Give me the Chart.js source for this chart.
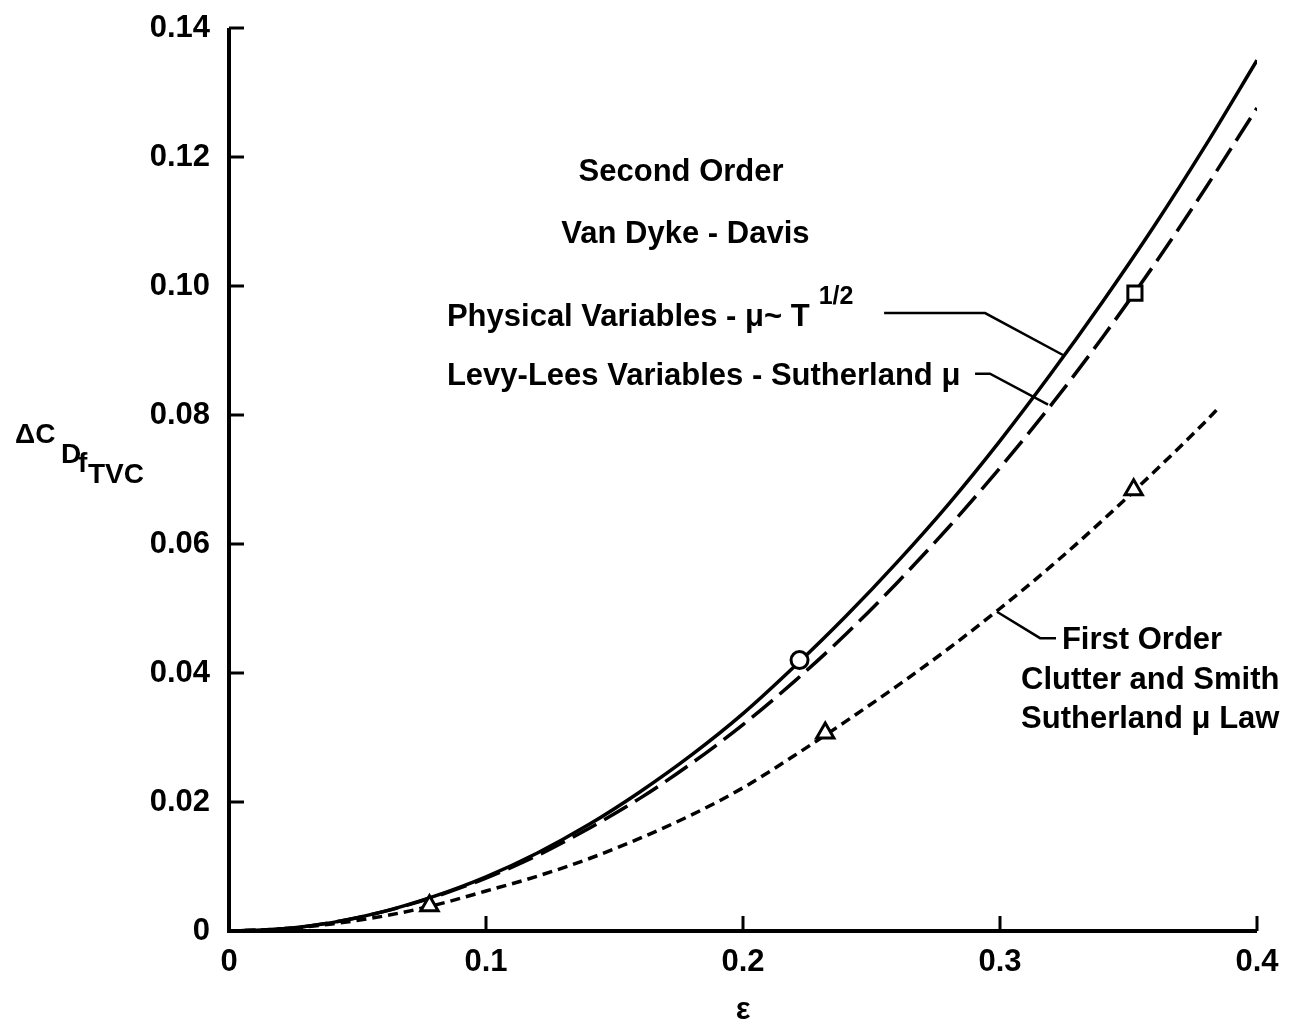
<!DOCTYPE html>
<html>
<head>
<meta charset="utf-8">
<script src="https://cdn.jsdelivr.net/npm/chart.js@4.4.0/dist/chart.umd.min.js"></script>
<style>
  html, body { margin: 0; padding: 0; background: #fff; }
  #wrap { width: 1291px; height: 1026px; }
</style>
</head>
<body>
<div id="wrap"><canvas id="chart"></canvas></div>
<script>
// epsilon values the second order curves are read at
const epsValues = [0, 0.02, 0.04, 0.06, 0.08, 0.1, 0.12, 0.14, 0.16, 0.18, 0.2,
  0.22, 0.24, 0.26, 0.28, 0.3, 0.32, 0.34, 0.36, 0.38, 0.4];
// Physical Variables - mu ~ T^1/2 (solid)
const physicalValues = [0, 0.0003, 0.0013, 0.003, 0.0054, 0.0084, 0.0121, 0.0165, 0.0216, 0.0273, 0.0337,
  0.041, 0.0488, 0.0572, 0.0662, 0.076, 0.0865, 0.0976, 0.1093, 0.1218, 0.135];
// Levy-Lees Variables - Sutherland mu (long dashes)
const levyLeesValues = [0, 0.0003, 0.0013, 0.003, 0.0053, 0.0082, 0.0117, 0.0159, 0.0206, 0.026, 0.032,
  0.0387, 0.046, 0.054, 0.0626, 0.0718, 0.0816, 0.0921, 0.1033, 0.1152, 0.1276];
// First Order, Clutter and Smith (short dashes)
const firstOrderEps = [0, 0.02, 0.04, 0.06, 0.08, 0.1, 0.12, 0.14, 0.16, 0.18, 0.2,
  0.22, 0.24, 0.26, 0.28, 0.3, 0.32, 0.34, 0.36, 0.38, 0.385];
const firstOrderValues = [0, 0.0003, 0.0011, 0.0023, 0.004, 0.0062, 0.0085, 0.0112, 0.0144, 0.018, 0.0222,
  0.0272, 0.0325, 0.038, 0.0438, 0.05, 0.0566, 0.0637, 0.0712, 0.079, 0.0811];

// symbols on the curves
const circleEps = [0.222];
const circleValues = [0.042];
const squareEps = [0.3525];
const squareValues = [0.0989];
const triangleEps = [0.078, 0.232, 0.352];
const triangleValues = [0.0039, 0.0307, 0.0684];

// axes
const xTicks = [0, 0.1, 0.2, 0.3, 0.4];
const xTickLabels = ["0", "0.1", "0.2", "0.3", "0.4"];
const yTicks = [0, 0.02, 0.04, 0.06, 0.08, 0.1, 0.12, 0.14];
const yTickLabels = ["0", "0.02", "0.04", "0.06", "0.08", "0.10", "0.12", "0.14"];

const FAMILY = "'Liberation Sans', Arial, sans-serif";
const toPoints = (xs, ys) => xs.map((x, i) => ({ x: x, y: ys[i] }));

// axes, inward ticks, leader lines and the notes on the plot
const overlay = {
  id: "overlay",
  afterDatasetsDraw(chart) {
    const { ctx, chartArea: a, scales } = chart;
    const px = (v) => scales.x.getPixelForValue(v);
    const py = (v) => scales.y.getPixelForValue(v);
    ctx.save();
    ctx.strokeStyle = "#000";
    ctx.fillStyle = "#000";

    // axis lines
    ctx.lineWidth = 4;
    ctx.beginPath();
    ctx.moveTo(a.left, a.top);
    ctx.lineTo(a.left, a.bottom);
    ctx.lineTo(a.right, a.bottom);
    ctx.stroke();

    // ticks point into the plot
    ctx.lineWidth = 3;
    yTicks.forEach((v) => {
      if (v === 0) return;
      ctx.beginPath();
      ctx.moveTo(a.left, py(v));
      ctx.lineTo(a.left + 15, py(v));
      ctx.stroke();
    });
    xTicks.forEach((v) => {
      if (v === 0) return;
      ctx.beginPath();
      ctx.moveTo(px(v), a.bottom);
      ctx.lineTo(px(v), a.bottom - 15);
      ctx.stroke();
    });

    // leader lines from the notes to the curves
    ctx.lineWidth = 2.5;
    const leader = (pts) => {
      ctx.beginPath();
      pts.forEach(([x, y], i) => (i ? ctx.lineTo(px(x), py(y)) : ctx.moveTo(px(x), py(y))));
      ctx.stroke();
    };
    leader([[0.2549, 0.0958], [0.2942, 0.0958], [0.3245, 0.0893]]);
    leader([[0.2903, 0.0864], [0.2961, 0.0864], [0.3187, 0.0816]]);
    leader([[0.2988, 0.0495], [0.3156, 0.0454], [0.3218, 0.0454]]);

    // notes
    ctx.font = "bold 31px " + FAMILY;
    ctx.textBaseline = "alphabetic";
    ctx.textAlign = "center";
    ctx.fillText("Second Order", px(0.1759), py(0.1163));
    ctx.fillText("Van Dyke - Davis", px(0.1776), py(0.1067));
    ctx.textAlign = "left";
    const phys = "Physical Variables - \u03bc~ T";
    ctx.fillText(phys, px(0.0848), py(0.0938));
    const w = ctx.measureText(phys).width;
    ctx.font = "bold 25px " + FAMILY;
    ctx.fillText("1/2", px(0.0848) + w + 9, py(0.0938) - 22);
    ctx.font = "bold 31px " + FAMILY;
    ctx.fillText("Levy-Lees Variables - Sutherland \u03bc", px(0.0848), py(0.0846));
    ctx.fillText("First Order", px(0.3241), py(0.0437));
    ctx.fillText("Clutter and Smith", px(0.3082), py(0.0375));
    ctx.fillText("Sutherland \u03bc Law", px(0.3082), py(0.0315));

    // axis titles
    ctx.font = "bold 31px " + FAMILY;
    ctx.textAlign = "center";
    ctx.fillText("\u03b5", px(0.2), a.bottom + 88);
    ctx.textAlign = "left";
    ctx.font = "bold 28px " + FAMILY;
    ctx.fillText("\u0394C", 15, 443);
    ctx.fillText("D", 61, 463);
    ctx.fillText("f", 78, 472);
    ctx.fillText("TVC", 88, 483);
    ctx.restore();
  }
};

const lineBase = {
  type: "line",
  borderColor: "#000",
  borderWidth: 3.5,
  pointRadius: 0,
  fill: false,
  cubicInterpolationMode: "monotone",
  order: 1
};
const markerBase = {
  type: "scatter",
  borderColor: "#000",
  backgroundColor: "#fff",
  borderWidth: 3,
  order: 0
};

new Chart(document.getElementById("chart"), {
  data: {
    datasets: [
      { ...markerBase, data: toPoints(circleEps, circleValues), pointStyle: "circle", pointRadius: 8.5 },
      { ...markerBase, data: toPoints(squareEps, squareValues), pointStyle: "rect", pointRadius: 10 },
      { ...markerBase, data: toPoints(triangleEps, triangleValues), pointStyle: "triangle", pointRadius: 10 },
      { ...lineBase, label: "Physical Variables", data: toPoints(epsValues, physicalValues) },
      { ...lineBase, label: "Levy-Lees Variables", data: toPoints(epsValues, levyLeesValues), borderDash: [27, 9] },
      { ...lineBase, label: "First Order", data: toPoints(firstOrderEps, firstOrderValues), borderDash: [10, 6] }
    ]
  },
  options: {
    responsive: true,
    maintainAspectRatio: false,
    animation: false,
    layout: { padding: { top: 28, right: 34, left: 0, bottom: 0 } },
    plugins: { legend: { display: false }, tooltip: { enabled: false } },
    scales: {
      x: {
        type: "linear",
        min: 0,
        max: 0.4,
        afterFit: (s) => { s.height = 95; s.paddingLeft = 0; s.paddingRight = 0; },
        afterBuildTicks: (s) => { s.ticks = xTicks.map((v) => ({ value: v })); },
        grid: { display: false, drawTicks: false },
        border: { display: false },
        ticks: {
          autoSkip: false,
          maxRotation: 0,
          padding: 13,
          color: "#000",
          font: { family: FAMILY, size: 31, weight: "bold" },
          callback: (v, i) => xTickLabels[i]
        }
      },
      y: {
        type: "linear",
        min: 0,
        max: 0.14,
        // fixed width, and no extra room above the top label
        afterFit: (s) => { s.width = 229; s.paddingTop = 0; s.paddingBottom = 0; },
        afterBuildTicks: (s) => { s.ticks = yTicks.map((v) => ({ value: v })); },
        grid: { display: false, drawTicks: false },
        border: { display: false },
        ticks: {
          autoSkip: false,
          padding: 19,
          color: "#000",
          font: { family: FAMILY, size: 31, weight: "bold" },
          callback: (v, i) => yTickLabels[i]
        }
      }
    }
  },
  plugins: [overlay]
});
</script>
</body>
</html>
